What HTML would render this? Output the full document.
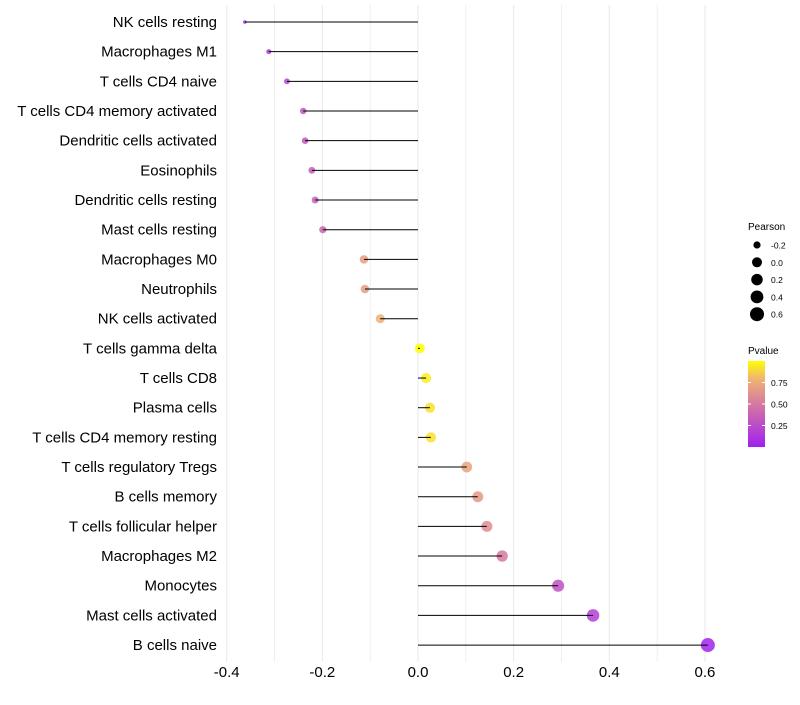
<!DOCTYPE html>
<html><head><meta charset="utf-8"><style>
body{margin:0;background:#fff;font-family:"Liberation Sans",sans-serif}
</style></head><body>
<svg id="c" width="800" height="700" xmlns="http://www.w3.org/2000/svg"></svg>
<script>
const categories=["NK cells resting","Macrophages M1","T cells CD4 naive","T cells CD4 memory activated","Dendritic cells activated","Eosinophils","Dendritic cells resting","Mast cells resting","Macrophages M0","Neutrophils","NK cells activated","T cells gamma delta","T cells CD8","Plasma cells","T cells CD4 memory resting","T cells regulatory  Tregs ","B cells memory","T cells follicular helper","Macrophages M2","Monocytes","Mast cells activated","B cells naive"];
const pearson=[-0.362,-0.312,-0.274,-0.240,-0.236,-0.222,-0.215,-0.199,-0.113,-0.111,-0.079,0.004,0.017,0.025,0.027,0.102,0.125,0.144,0.176,0.293,0.366,0.606];
const pvalue=[0.08,0.15,0.2,0.3,0.3,0.35,0.35,0.4,0.68,0.68,0.77,1.0,0.95,0.92,0.92,0.72,0.66,0.6,0.5,0.28,0.18,0.02];
const xTicks=[-0.4,-0.2,0,0.2,0.4,0.6];
const sizeLegend=[-0.2,0,0.2,0.4,0.6];
const pTicks=[0.25,0.5,0.75];
const NS="http://www.w3.org/2000/svg",svg=document.getElementById('c');
const X=v=>418+v*478.3, Y=i=>22+i*29.67, R=v=>Math.max(1.8,Math.sqrt(Math.max(1,25+v*(v<0?60:40))));
const stops=[[0,[160,32,240]],[0.5,[214,120,160]],[0.8,[240,182,112]],[1,[255,255,0]]];
function col(p){for(let i=1;i<stops.length;i++){if(p<=stops[i][0]){const a=stops[i-1],b=stops[i],t=(p-a[0])/(b[0]-a[0]);return 'rgb('+a[1].map((c,k)=>Math.round(c+(b[1][k]-c)*t)).join(',')+')';}}return 'rgb(255,255,0)';}
function el(t,at,txt){const e=document.createElementNS(NS,t);for(const k in at)e.setAttribute(k,at[k]);if(txt!=null)e.textContent=txt;svg.appendChild(e);return e;}
for(let k=-4;k<=6;k++){const v=k/10;const g=el('line',{x1:X(v),x2:X(v),y1:5,y2:662,stroke:'#ebebeb','stroke-width':k%2==0?1.1:0.8});
}
xTicks.forEach(t=>{const e=el('text',{x:X(t),y:677,'text-anchor':'middle','font-size':15,fill:'#000'},t==0?'0.0':t.toFixed(1));
});
categories.forEach((c,i)=>{const t=el('text',{x:217,y:Y(i)+5,'text-anchor':'end','font-size':15,fill:'#000','xml:space':'preserve'},c);

const p=el('circle',{cx:X(pearson[i]),cy:Y(i),r:R(pearson[i]),fill:col(pvalue[i]),'fill-opacity':0.85});

const s=el('line',{x1:X(0),x2:X(pearson[i]),y1:Y(i),y2:Y(i),stroke:'#000','stroke-width':1});
});
let e=el('text',{x:748,y:230,'font-size':10},'Pearson');
sizeLegend.forEach((v,i)=>{const y=245+i*17.3;const c=el('circle',{cx:757,cy:y,r:R(v),fill:'#000'});

const t=el('text',{x:771,y:y+3.5,'font-size':8.5},v==0?'0.0':v.toFixed(1));});
e=el('text',{x:748,y:354,'font-size':10},'Pvalue');
const defs=el('defs',{});const lg=document.createElementNS(NS,'linearGradient');lg.setAttribute('id','gr');lg.setAttribute('x1','0');lg.setAttribute('y1','1');lg.setAttribute('x2','0');lg.setAttribute('y2','0');
stops.forEach(s=>{const st=document.createElementNS(NS,'stop');st.setAttribute('offset',s[0]);st.setAttribute('stop-color','rgb('+s[1].join(',')+')');lg.appendChild(st);});defs.appendChild(lg);
const PY=p=>447-p*86;
e=el('rect',{x:748,y:PY(1),width:17,height:86,fill:'url(#gr)'});
pTicks.forEach(p=>{el('line',{x1:748,x2:751,y1:PY(p),y2:PY(p),stroke:'#fff'});el('line',{x1:762,x2:765,y1:PY(p),y2:PY(p),stroke:'#fff'});
const t=el('text',{x:771,y:PY(p)+3.5,'font-size':8.5},p.toFixed(2));});
</script></body></html>
